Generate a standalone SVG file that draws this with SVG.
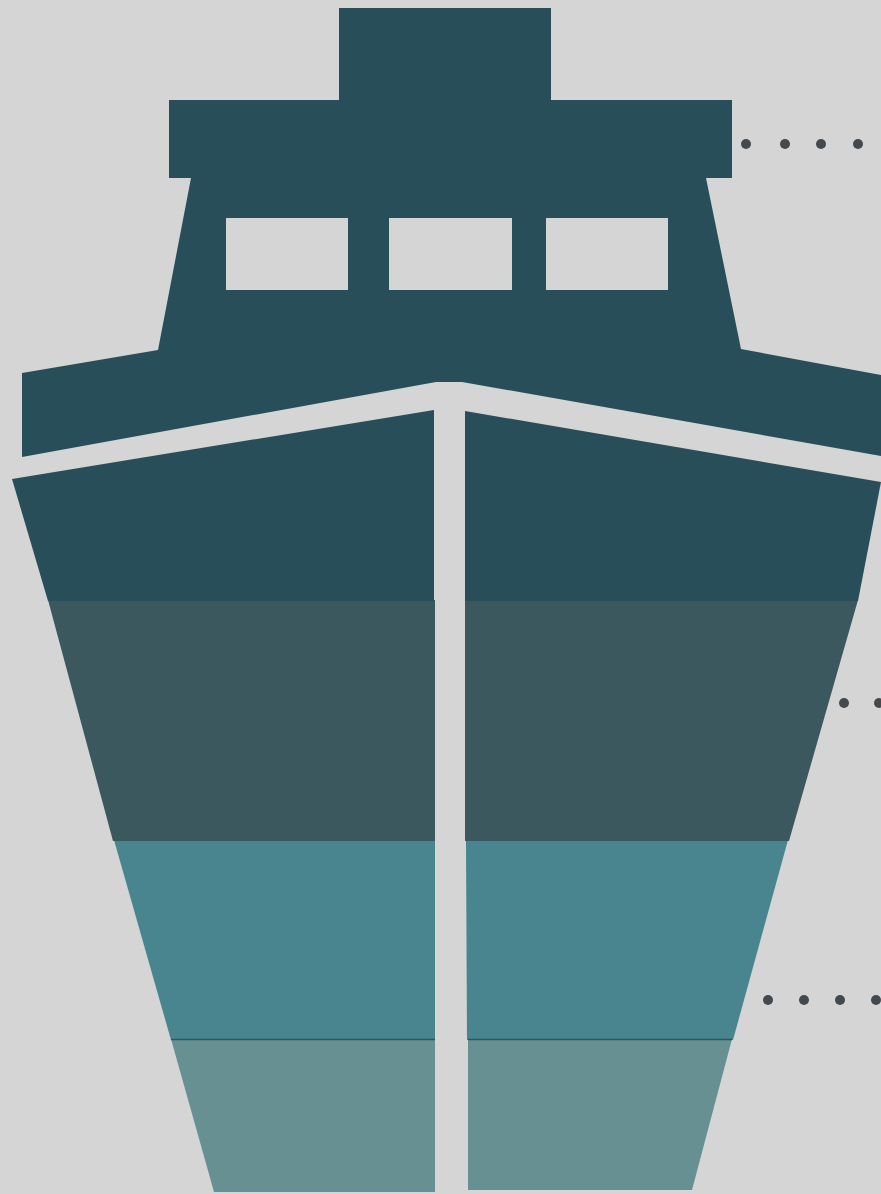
<svg xmlns="http://www.w3.org/2000/svg" width="881" height="1194" viewBox="0 0 881 1194">
<style>.d{fill:#284f59}.m{fill:#3a585d}.t{fill:#48858f}.l{fill:#669092}.w{fill:#d5d5d5}.dot{fill:#43494c}.s{stroke:#2a5a60;stroke-width:1.5;fill:none}</style>
<rect width="881" height="1194" fill="#d5d5d5"/>
<path class="d" d="M339 8H551V100H339Z"/>
<path class="d" d="M169 100H732V178H706L741 349L881 375V456L462 382H436L22 457V373L158 350L191 178H169Z"/>
<rect class="w" x="226" y="218" width="122" height="72"/>
<rect class="w" x="389" y="218" width="123" height="72"/>
<rect class="w" x="546" y="218" width="122" height="72"/>
<path class="l" d="M171 1039H435V1192H214Z"/>
<path class="l" d="M468 1039H732L692 1190H468Z"/>
<path class="t" d="M114 840H435V1040H171Z"/>
<path class="t" d="M466 840H788L733 1040H467Z"/>
<path class="m" d="M48 600H435V841H113Z"/>
<path class="m" d="M465 600H858L789 841H465Z"/>
<path class="d" d="M12 479L434 410V601H48Z"/>
<path class="d" d="M465 411L881 482L858 601H465Z"/>
<path class="s" d="M171 1039.500H435M468 1039.500H732"/>
<g class="dot"><circle cx="746" cy="144" r="5"/><circle cx="785" cy="144" r="5"/><circle cx="821" cy="144" r="5"/><circle cx="858" cy="144" r="5"/><circle cx="844" cy="703" r="5"/><circle cx="879" cy="703" r="5"/><circle cx="768" cy="1000" r="5"/><circle cx="804" cy="1000" r="5"/><circle cx="840" cy="1000" r="5"/><circle cx="876" cy="1000" r="5"/></g>
</svg>
